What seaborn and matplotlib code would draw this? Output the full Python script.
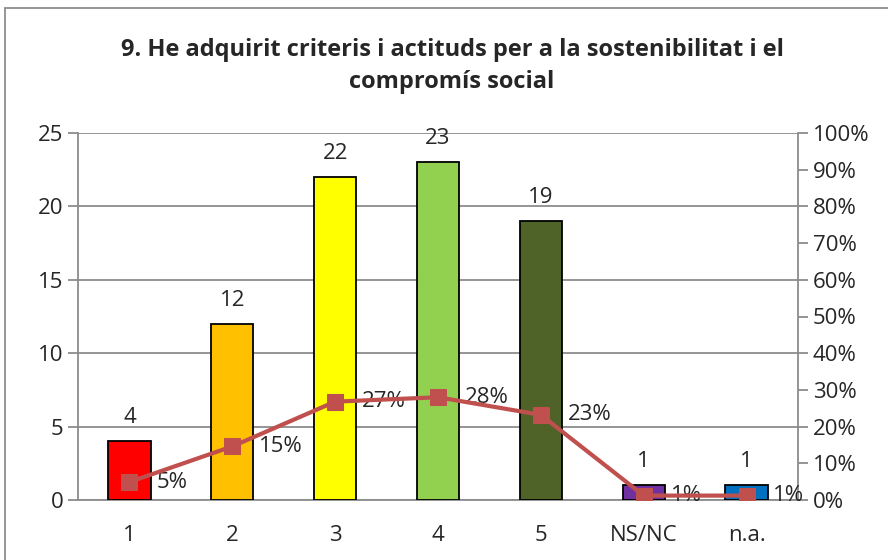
import numpy as np
import pandas as pd
import seaborn as sns
import matplotlib
matplotlib.use("Agg")
import matplotlib.pyplot as plt
from matplotlib.patches import Rectangle

# dades llegides del gràfic
categories = ["1", "2", "3", "4", "5", "NS/NC", "n.a."]
counts = [4, 12, 22, 23, 19, 1, 1]
percents = [4.9, 14.6, 26.8, 28.0, 23.2, 1.2, 1.2]
pct_labels = ["5%", "15%", "27%", "28%", "23%", "1%", "1%"]
bar_colors = ["#FF0000", "#FFC000", "#FFFF00", "#92D050", "#4F6228", "#7030A0", "#0070C0"]
title = "9. He adquirit criteris i actituds per a la sostenibilitat i el\ncompromís social"

sns.set_style("white")
plt.rcParams["font.family"] = ["Open Sans", "DejaVu Sans"]

df = pd.DataFrame({"cat": categories, "n": counts})

fig = plt.figure(figsize=(8.88, 5.6), dpi=100)
ax = fig.add_axes([78 / 888, 1 - 500 / 560, 720 / 888, 367 / 560])

sns.barplot(data=df, x="cat", y="n", hue="cat", palette=bar_colors, legend=False,
            saturation=1, width=0.41, edgecolor="black", linewidth=1.3, ax=ax, zorder=3)

ax.set_ylim(0, 25)
ax.set_yticks(range(0, 26, 5))
ax.set_xlim(-0.5, len(categories) - 0.5)
ax.yaxis.grid(True, color="#8c8c8c", linewidth=1.3, zorder=0)
ax.set_axisbelow(True)
ax.set_xlabel("")
ax.set_ylabel("")

# ticks de l'eix x entre categories
ax.set_xticks(np.arange(len(categories)))
ax.set_xticklabels(categories)
ax.set_xticks(np.arange(-0.5, len(categories)), minor=True)
ax.tick_params(axis="x", which="major", length=0, labelsize=16, pad=18)
ax.tick_params(axis="x", which="minor", length=7, width=1.3, color="#8c8c8c")
ax.tick_params(axis="y", length=7, width=1.3, color="#8c8c8c", labelsize=16, left=True)

for side in ["top", "right"]:
    ax.spines[side].set_visible(False)
for side in ["left", "bottom"]:
    ax.spines[side].set_color("#8c8c8c")
    ax.spines[side].set_linewidth(1.3)

for i, v in enumerate(counts):
    ax.text(i, v + 0.9, str(v), ha="center", va="bottom", fontsize=16)

ax2 = ax.twinx()
sns.lineplot(x=np.arange(len(categories)), y=percents, ax=ax2, color="#C0504D",
             linewidth=3, marker="s", markersize=12, markeredgecolor="#C0504D",
             zorder=5)
ax2.set_ylim(0, 100)
ax2.set_yticks(range(0, 101, 10))
ax2.set_yticklabels([f"{t}%" for t in range(0, 101, 10)])
ax2.tick_params(axis="y", length=7, width=1.3, color="#8c8c8c", labelsize=16, right=True)
for side in ["top", "left", "bottom"]:
    ax2.spines[side].set_visible(False)
ax2.spines["right"].set_color("#8c8c8c")
ax2.spines["right"].set_linewidth(1.3)

for i, (p, lab) in enumerate(zip(percents, pct_labels)):
    ax2.text(i + 0.26, p, lab, ha="left", va="center", fontsize=16)

fig.text(452 / 888, 1 - 66 / 560, title, ha="center", va="center",
         fontsize=17, fontweight="bold", linespacing=1.45)

# marc del gràfic
fig.patches.append(Rectangle((5 / 888, -0.05), 1.0, 1 - 8 / 560 + 0.05,
                             transform=fig.transFigure, fill=False,
                             edgecolor="#8c8c8c", linewidth=1.3))

fig.savefig("out.png", dpi=100)
